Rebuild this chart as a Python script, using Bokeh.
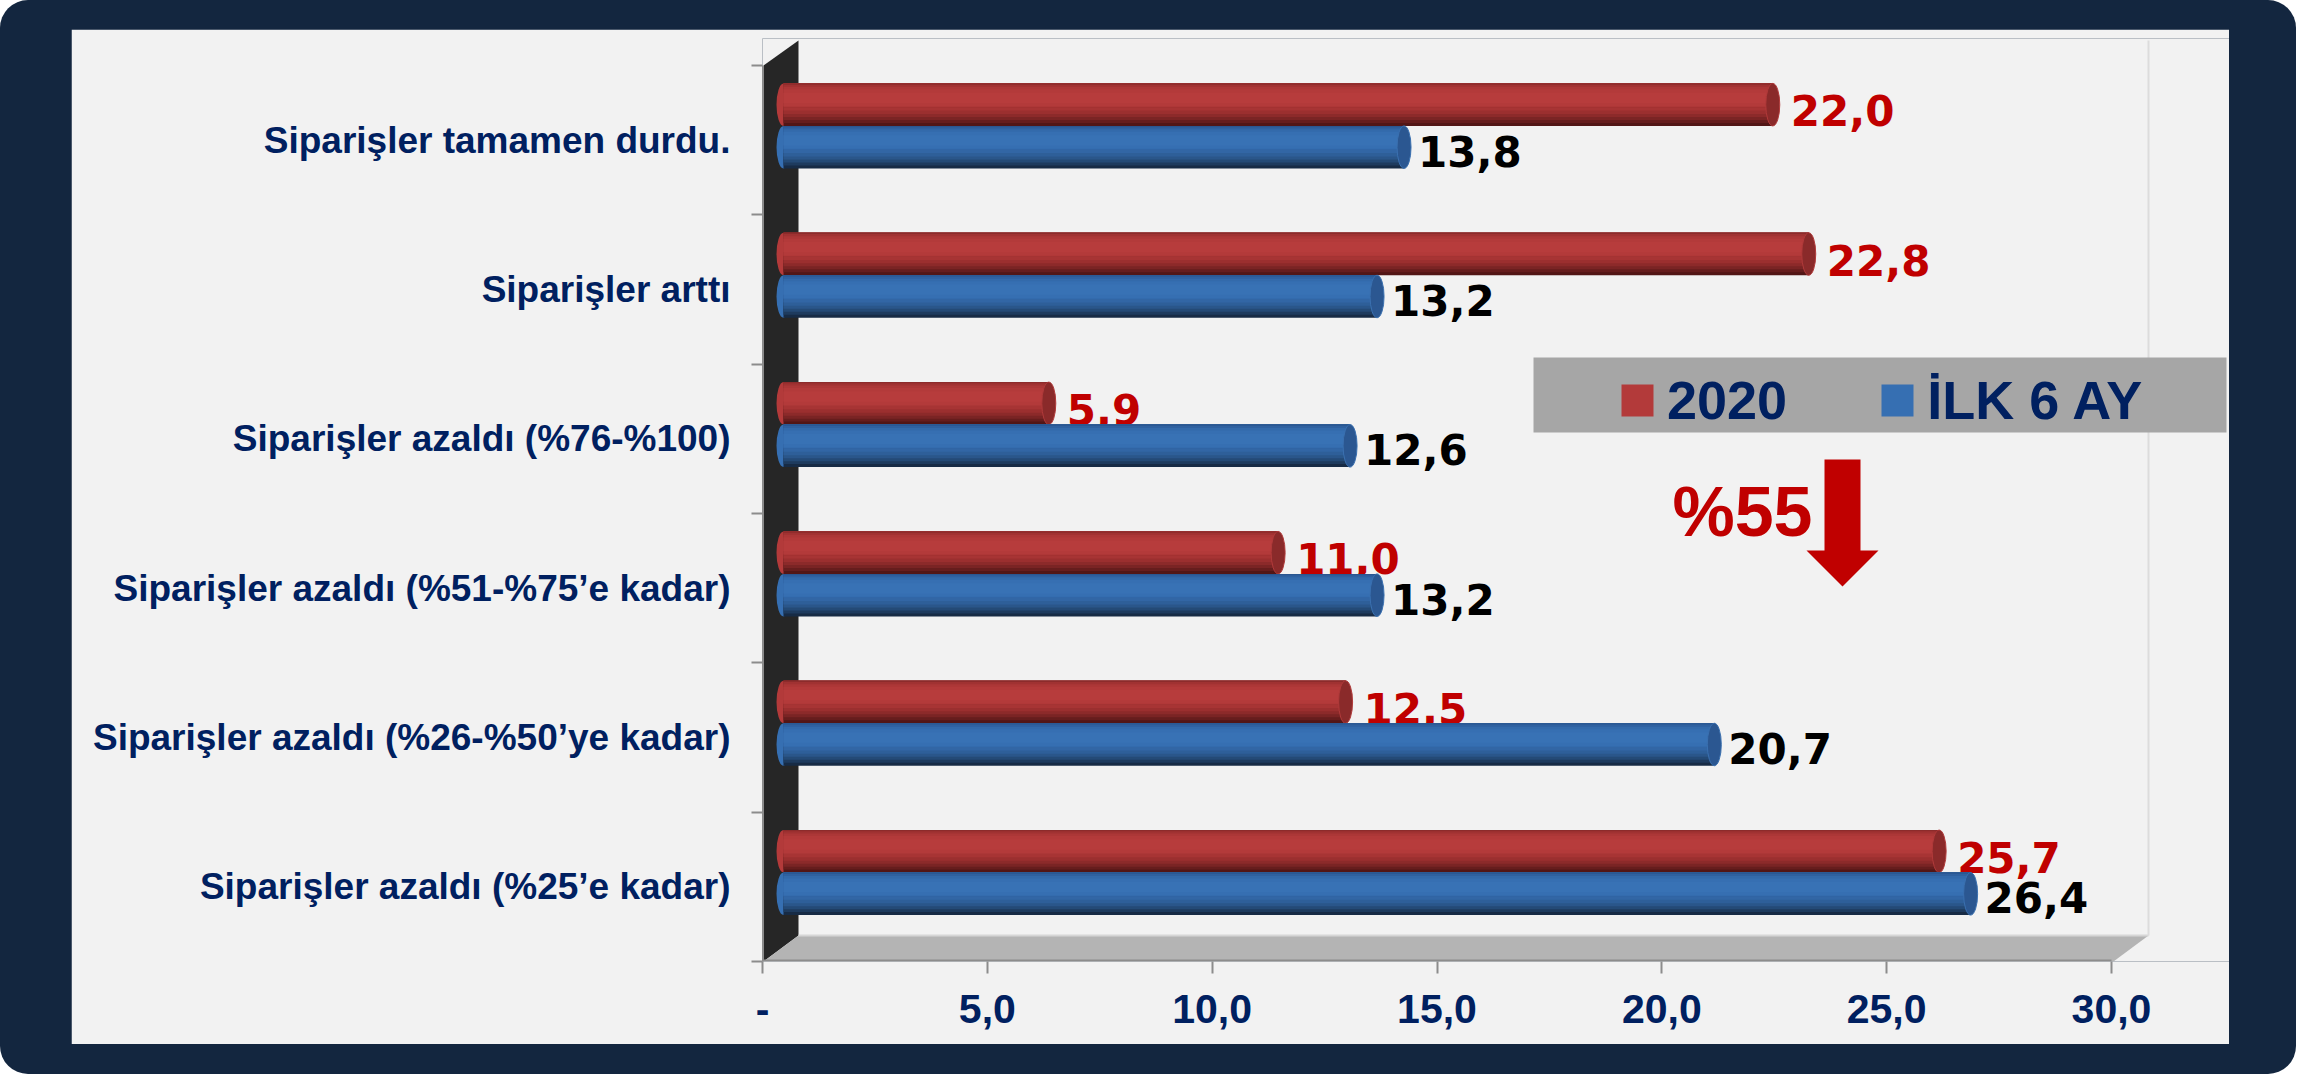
from bokeh.plotting import figure
from bokeh.layouts import column
from bokeh.models import Range1d, LinearAxis, FixedTicker, Legend, LegendItem
from bokeh.core.properties import value
from bokeh.embed import file_html
from bokeh.resources import INLINE

# ---------------- data ----------------
categories = [
    "Siparişler tamamen durdu.",
    "Siparişler arttı",
    "Siparişler azaldı (%76-%100)",
    "Siparişler azaldı (%51-%75’e kadar)",
    "Siparişler azaldı (%26-%50’ye kadar)",
    "Siparişler azaldı (%25’e kadar)",
]
vals_2020 = [22.0, 22.8, 5.9, 11.0, 12.5, 25.7]
vals_ilk6 = [13.8, 13.2, 12.6, 13.2, 20.7, 26.4]
series_names = ["2020", "İLK 6 AY"]
x_ticks = [0, 5, 10, 15, 20, 25, 30]
x_tick_labels = ["-", "5,0", "10,0", "15,0", "20,0", "25,0", "30,0"]
note_text = "%55"

# ---------------- layout constants (page pixels) ----------------
PANEL_L, PANEL_T = 71, 29          # where the light panel (the figure) starts on the page
X0, Y0 = 762, 961                  # page position of the data origin
FRAME_T = 38
W, H = 2158, 1015
ML, MR, MT, MB = X0 - PANEL_L, 0, FRAME_T - PANEL_T, H - (Y0 - PANEL_T)
FW, FH = W - ML - MR, H - MT - MB
PX = (2111 - 762) / 30.0           # pixels per x unit
PY = 896 / 6.0                     # pixels per category
XMAX, YMAX = FW / PX, FH / PY


def X(px):
    return (px - X0) / PX


def Y(py):
    return (Y0 - py) / PY


NAVY = "#13263f"
PANEL = "#f2f2f2"
TXT = "#002060"
RED_TXT = "#c00000"
GRAY = "#8c8c8c"

p = figure(width=W, height=H, x_range=Range1d(0, XMAX), y_range=Range1d(0, YMAX),
           x_axis_type=None, y_axis_type=None,
           output_backend="svg", toolbar_location=None,
           min_border_left=ML, min_border_right=MR, min_border_top=MT, min_border_bottom=MB,
           border_fill_color=PANEL, background_fill_color=PANEL, outline_line_color=None)
p.grid.visible = False

# 3D walls
p.patch([X(763), X(798), X(798), X(763)], [Y(65), Y(40), Y(935), Y(961)],
        fill_color="#262626", line_color=None)
p.patch([X(763), X(798), X(2148), X(2113)], [Y(961), Y(935), Y(935), Y(961)],
        fill_color="#b4b4b4", line_color=None)
p.line([X(798), X(2148)], [Y(935), Y(935)], line_color="#d6d6d6", line_width=2)
p.line([X(2148), X(2148)], [Y(40), Y(935)], line_color="#dcdcdc", line_width=2)
# x baseline (value axis line)
p.line([0, x_ticks[-1]], [Y(960), Y(960)], line_color=GRAY, line_width=2)

# ---------------- bars ----------------
n = len(categories)
centers = [n - i - 0.5 for i in range(n)]
BAR0 = X(783)
BH = 42.5 / PY
CAP = 14 / PX
red_y = [c + 35.5 / PY for c in centers]
blue_y = [c - 7.0 / PY for c in centers]

# nested bands (fraction from top, fraction to bottom, colour), painted in order
red_bands = [(0.00, 1.00, "#521616"), (0.00, 0.93, "#661d1d"), (0.00, 0.86, "#7a2424"),
             (0.00, 0.79, "#8c2a2a"), (0.00, 0.72, "#9b2f2f"), (0.00, 0.64, "#a73434"),
             (0.00, 0.56, "#8c2b2b"), (0.03, 0.56, "#a03232"), (0.08, 0.56, "#ac3737"),
             (0.14, 0.54, "#b33a3a"), (0.22, 0.46, "#b73c3c")]
blue_bands = [(0.00, 1.00, "#172b45"), (0.00, 0.93, "#1e3b5e"), (0.00, 0.86, "#244a76"),
              (0.00, 0.79, "#2a568a"), (0.00, 0.72, "#2e5f99"), (0.00, 0.64, "#3266a5"),
              (0.00, 0.56, "#2a5690"), (0.03, 0.56, "#2f61a0"), (0.08, 0.56, "#336aab"),
              (0.14, 0.54, "#366fb2"), (0.22, 0.46, "#3872b5")]


def draw_series(vals, ys, bands, face, rim, label_color, gap, dy, legend_band):
    p.ellipse(x=[BAR0] * len(vals), y=ys, width=CAP, height=BH,
              fill_color=bands[-2][2], line_color=None)
    main = None
    for k, (f0, f1, col) in enumerate(bands):
        yy = [y + BH / 2 - (f0 + f1) / 2 * BH for y in ys]
        r = p.hbar(y=yy, height=(f1 - f0) * BH, left=BAR0,
                   right=[BAR0 + v for v in vals], fill_color=col, line_color=None)
        if k == legend_band:
            main = r
    p.ellipse(x=[BAR0 + v for v in vals], y=ys, width=CAP, height=BH,
              fill_color=face, line_color=rim, line_width=1)
    p.text(x=[BAR0 + v + CAP / 2 + gap / PX for v in vals],
           y=[y - dy / PY for y in ys],
           text=[f"{v:.1f}".replace(".", ",") for v in vals],
           text_align="left", text_baseline="middle",
           text_font=value("DejaVu Sans"), text_font_style="bold",
           text_font_size=value("42px"), text_color=label_color)
    return main


red_main = draw_series(vals_2020, red_y, red_bands, "#8a2a2a", "#b03a3a", RED_TXT, 11, 6, 9)
blue_main = draw_series(vals_ilk6, blue_y, blue_bands, "#2b5791", "#3a70b0", "black", 7, 4, 9)

# ---------------- legend ----------------
p.quad(left=X(1533), right=X(2226), top=Y(357), bottom=Y(432),
       fill_color="#a6a6a6", line_color=None)
legend = Legend(items=[LegendItem(label=series_names[0], renderers=[red_main]),
                       LegendItem(label=series_names[1], renderers=[blue_main])],
                orientation="horizontal", location=(1617 - X0, 530),
                background_fill_alpha=0, border_line_alpha=0,
                glyph_width=40, glyph_height=40, label_standoff=10, spacing=90,
                padding=0, margin=0,
                label_text_font="Liberation Sans", label_text_font_style="bold",
                label_text_font_size="54px", label_text_color=TXT)
p.add_layout(legend)

# ---------------- %55 note with arrow ----------------
p.text(x=[X(1812)], y=[Y(511)], text=[note_text], text_align="right", text_baseline="middle",
       text_font=value("Liberation Sans"), text_font_style="bold",
       text_font_size=value("70px"), text_color=RED_TXT)
p.patch([X(1824), X(1860), X(1860), X(1878), X(1842), X(1806), X(1824)],
        [Y(459), Y(459), Y(550), Y(550), Y(586), Y(550), Y(550)],
        fill_color=RED_TXT, line_color=None)

# ---------------- axes ----------------
xaxis = LinearAxis(ticker=FixedTicker(ticks=x_ticks, minor_ticks=[]),
                   major_label_overrides=dict(zip(x_ticks, x_tick_labels)),
                   bounds=(0, 30),
                   axis_line_color=None,
                   major_tick_line_color=GRAY, major_tick_line_width=2,
                   major_tick_in=0, major_tick_out=12,
                   minor_tick_line_color=None,
                   major_label_text_font="Liberation Sans", major_label_text_font_style="bold",
                   major_label_text_font_size="41px", major_label_text_color=TXT,
                   major_label_standoff=21)
p.add_layout(xaxis, "below")

yaxis = LinearAxis(ticker=FixedTicker(ticks=centers, minor_ticks=list(range(n + 1))),
                   major_label_overrides=dict(zip(centers, categories)),
                   bounds=(0, n),
                   axis_line_color=GRAY, axis_line_width=1,
                   major_tick_line_color=None, major_tick_in=0, major_tick_out=0,
                   minor_tick_line_color=GRAY, minor_tick_line_width=2,
                   minor_tick_in=0, minor_tick_out=11,
                   major_label_text_font="Liberation Sans", major_label_text_font_style="bold",
                   major_label_text_font_size="37px", major_label_text_color=TXT,
                   major_label_standoff=21)
p.add_layout(yaxis, "left")

# dark navy frame with rounded corners around the light panel
page = column(p, styles={"background-color": NAVY, "border-radius": "28px",
                         "padding": f"{PANEL_T}px 67px 30px {PANEL_L}px"})

open("out.html", "w").write(file_html(page, INLINE))
